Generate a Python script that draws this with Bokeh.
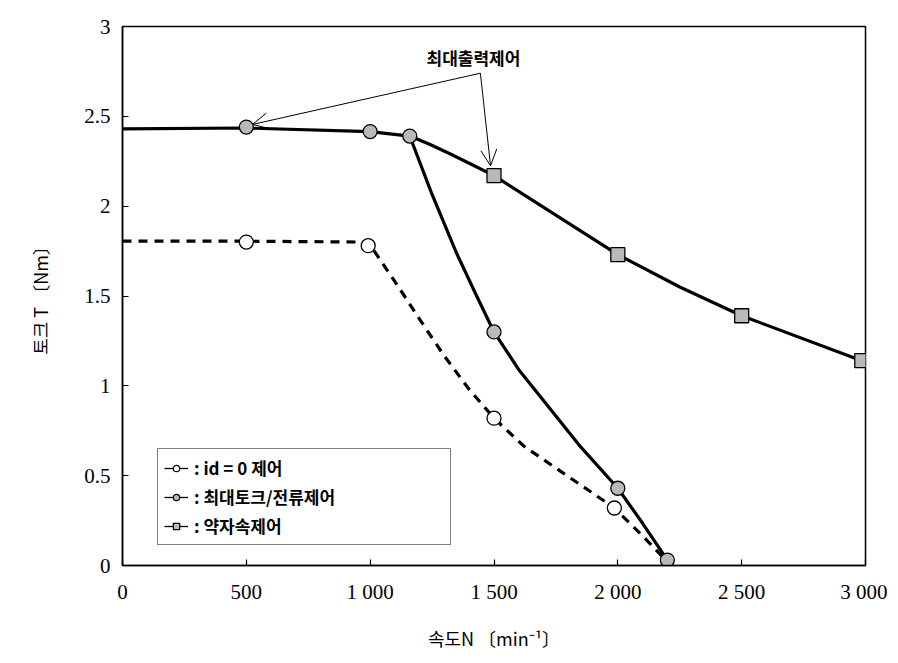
from bokeh.plotting import figure
from bokeh.models import Range1d, FixedTicker, Legend, LegendItem, Arrow, OpenHead, Label
from bokeh.embed import file_html
from bokeh.resources import INLINE

NAN = float("nan")

# ---- data ----
x_ticks = [0, 500, 1000, 1500, 2000, 2500, 3000]
x_tick_labels = ["0", "500", "1 000", "1 500", "2 000", "2 500", "3 000"]
y_ticks = [0, 0.5, 1, 1.5, 2, 2.5, 3]
y_tick_labels = ["0", "0.5", "1", "1.5", "2", "2.5", "3"]

# i_d = 0 control (open circles, dashed curve)
id0_pts_x = [500, 992, 1500, 1986]
id0_pts_y = [1.80, 1.78, 0.82, 0.32]
id0_line_x = [0, 500, 992, 1100, 1200, 1300, 1400, 1500, 1620, 1768, 1880, 1986, 2100, 2200]
id0_line_y = [1.805, 1.805, 1.80, 1.58, 1.37, 1.165, 0.98, 0.82, 0.665, 0.525, 0.42, 0.32, 0.165, 0.02]

# max torque / current control (gray circles)
mtpa_pts_x = [500, 1000, 1160, 1500, 2000, 2200]
mtpa_pts_y = [2.44, 2.415, 2.39, 1.30, 0.43, 0.03]
mtpa_line_x = [0, 500, 1000, 1160, 1250, 1350, 1430, 1500, 1600, 1728, 1850, 2000, 2100, 2200]
mtpa_line_y = [2.43, 2.435, 2.415, 2.39, 2.065, 1.735, 1.50, 1.30, 1.09, 0.87, 0.66, 0.43, 0.235, 0.03]

# flux weakening control (gray squares)
fw_pts_x = [1500, 2000, 2500, 2985]
fw_pts_y = [2.17, 1.73, 1.39, 1.14]
fw_line_x = [1160, 1240, 1324, 1410, 1500, 2000, 2250, 2500, 2985]
fw_line_y = [2.39, 2.345, 2.29, 2.232, 2.17, 1.73, 1.55, 1.39, 1.14]

# annotation "max output control"
note_text = "최대출력제어"
note_x, note_y = 1417, 2.83
arrow_start = (1445, 2.74)
arrow_ends = [(525, 2.455), (1486, 2.225)]

legend_labels = [": id = 0 제어", ": 최대토크/전류제어", ": 약자속제어"]

GRAY = "#b9b9b9"
SERIF = "Liberation Serif"
KR = "Noto Sans CJK KR"

p = figure(frame_width=743, frame_height=539, output_backend="svg", toolbar_location=None,
           x_range=Range1d(0, 3000), y_range=Range1d(0, 3),
           min_border_left=122, min_border_right=22, min_border_top=26, min_border_bottom=90)
p.background_fill_color = "white"
p.border_fill_color = "white"
p.grid.visible = False
p.outline_line_color = "black"
p.outline_line_width = 1.5

for ax in (p.xaxis[0], p.yaxis[0]):
    ax.axis_line_color = "black"
    ax.axis_line_width = 1.5
    ax.major_tick_in = 6
    ax.major_tick_out = 0
    ax.minor_tick_line_color = None
    ax.major_tick_line_color = "black"
    ax.major_tick_line_width = 1.2
    ax.major_label_text_font = SERIF
    ax.major_label_text_font_size = "21px"
    ax.major_label_text_color = "black"
    ax.axis_label_text_color = "black"
    ax.axis_label_text_font_style = "normal"

p.xaxis.ticker = FixedTicker(ticks=x_ticks)
p.xaxis.major_label_overrides = {t: s for t, s in zip(x_ticks, x_tick_labels)}
p.yaxis.ticker = FixedTicker(ticks=y_ticks)
p.yaxis.major_label_overrides = {t: s for t, s in zip(y_ticks, y_tick_labels)}
p.xaxis.major_label_standoff = 14
p.yaxis.major_label_standoff = 12

p.xaxis.axis_label = "속도N 〔min⁻¹〕"
p.xaxis.axis_label_text_font = KR
p.xaxis.axis_label_text_font_size = "18px"
p.xaxis.axis_label_standoff = 18
p.yaxis.axis_label = "토크 T 〔Nm〕"
p.yaxis.axis_label_text_font = KR
p.yaxis.axis_label_text_font_size = "18px"
p.yaxis.axis_label_standoff = 28

# curves
p.line(id0_line_x, id0_line_y, line_color="black", line_width=3.2, line_dash="9 7",
       line_join="round")
p.line(mtpa_line_x, mtpa_line_y, line_color="black", line_width=3.2, line_join="round")
p.line(fw_line_x, fw_line_y, line_color="black", line_width=3.2, line_join="round")

# markers
p.scatter(id0_pts_x, id0_pts_y, marker="circle", size=14, fill_color="white",
          line_color="black", line_width=1.3)
p.scatter(mtpa_pts_x, mtpa_pts_y, marker="circle", size=14, fill_color=GRAY,
          line_color="black", line_width=1.3)
p.scatter(fw_pts_x, fw_pts_y, marker="square", size=14, fill_color=GRAY,
          line_color="black", line_width=1.3)

# arrows + note
for ex, ey in arrow_ends:
    p.add_layout(Arrow(x_start=arrow_start[0], y_start=arrow_start[1], x_end=ex, y_end=ey,
                       line_color="black", line_width=1,
                       end=OpenHead(size=16, line_color="black", line_width=1)))
p.add_layout(Label(x=note_x, y=note_y, text=note_text, text_align="center",
                   text_baseline="middle", text_font=KR, text_font_style="bold",
                   text_font_size="17px", text_color="black"))

# legend samples (NaN data => only drawn in the legend)
l1 = p.line([NAN], [NAN], line_color="black", line_width=1.3)
m1 = p.scatter([NAN], [NAN], marker="circle", size=9, fill_color="white", line_color="black", line_width=1.2)
l2 = p.line([NAN], [NAN], line_color="black", line_width=1.3)
m2 = p.scatter([NAN], [NAN], marker="circle", size=9, fill_color=GRAY, line_color="black", line_width=1.2)
l3 = p.line([NAN], [NAN], line_color="black", line_width=1.3)
m3 = p.scatter([NAN], [NAN], marker="square", size=9, fill_color=GRAY, line_color="black", line_width=1.2)

legend = Legend(items=[LegendItem(label=legend_labels[0], renderers=[l1, m1]),
                       LegendItem(label=legend_labels[1], renderers=[l2, m2]),
                       LegendItem(label=legend_labels[2], renderers=[l3, m3])],
                location=(35, 20))
legend.border_line_color = "black"
legend.border_line_width = 1.5
legend.background_fill_alpha = 1.0
legend.label_text_font = KR
legend.label_text_font_style = "bold"
legend.label_text_font_size = "17px"
legend.label_text_color = "black"
legend.glyph_width = 24
legend.glyph_height = 16
legend.label_standoff = 6
legend.spacing = 4
legend.padding = 6
legend.margin = 0
legend.label_width = 250
p.add_layout(legend)

open("out.html", "w").write(file_html(p, INLINE))
